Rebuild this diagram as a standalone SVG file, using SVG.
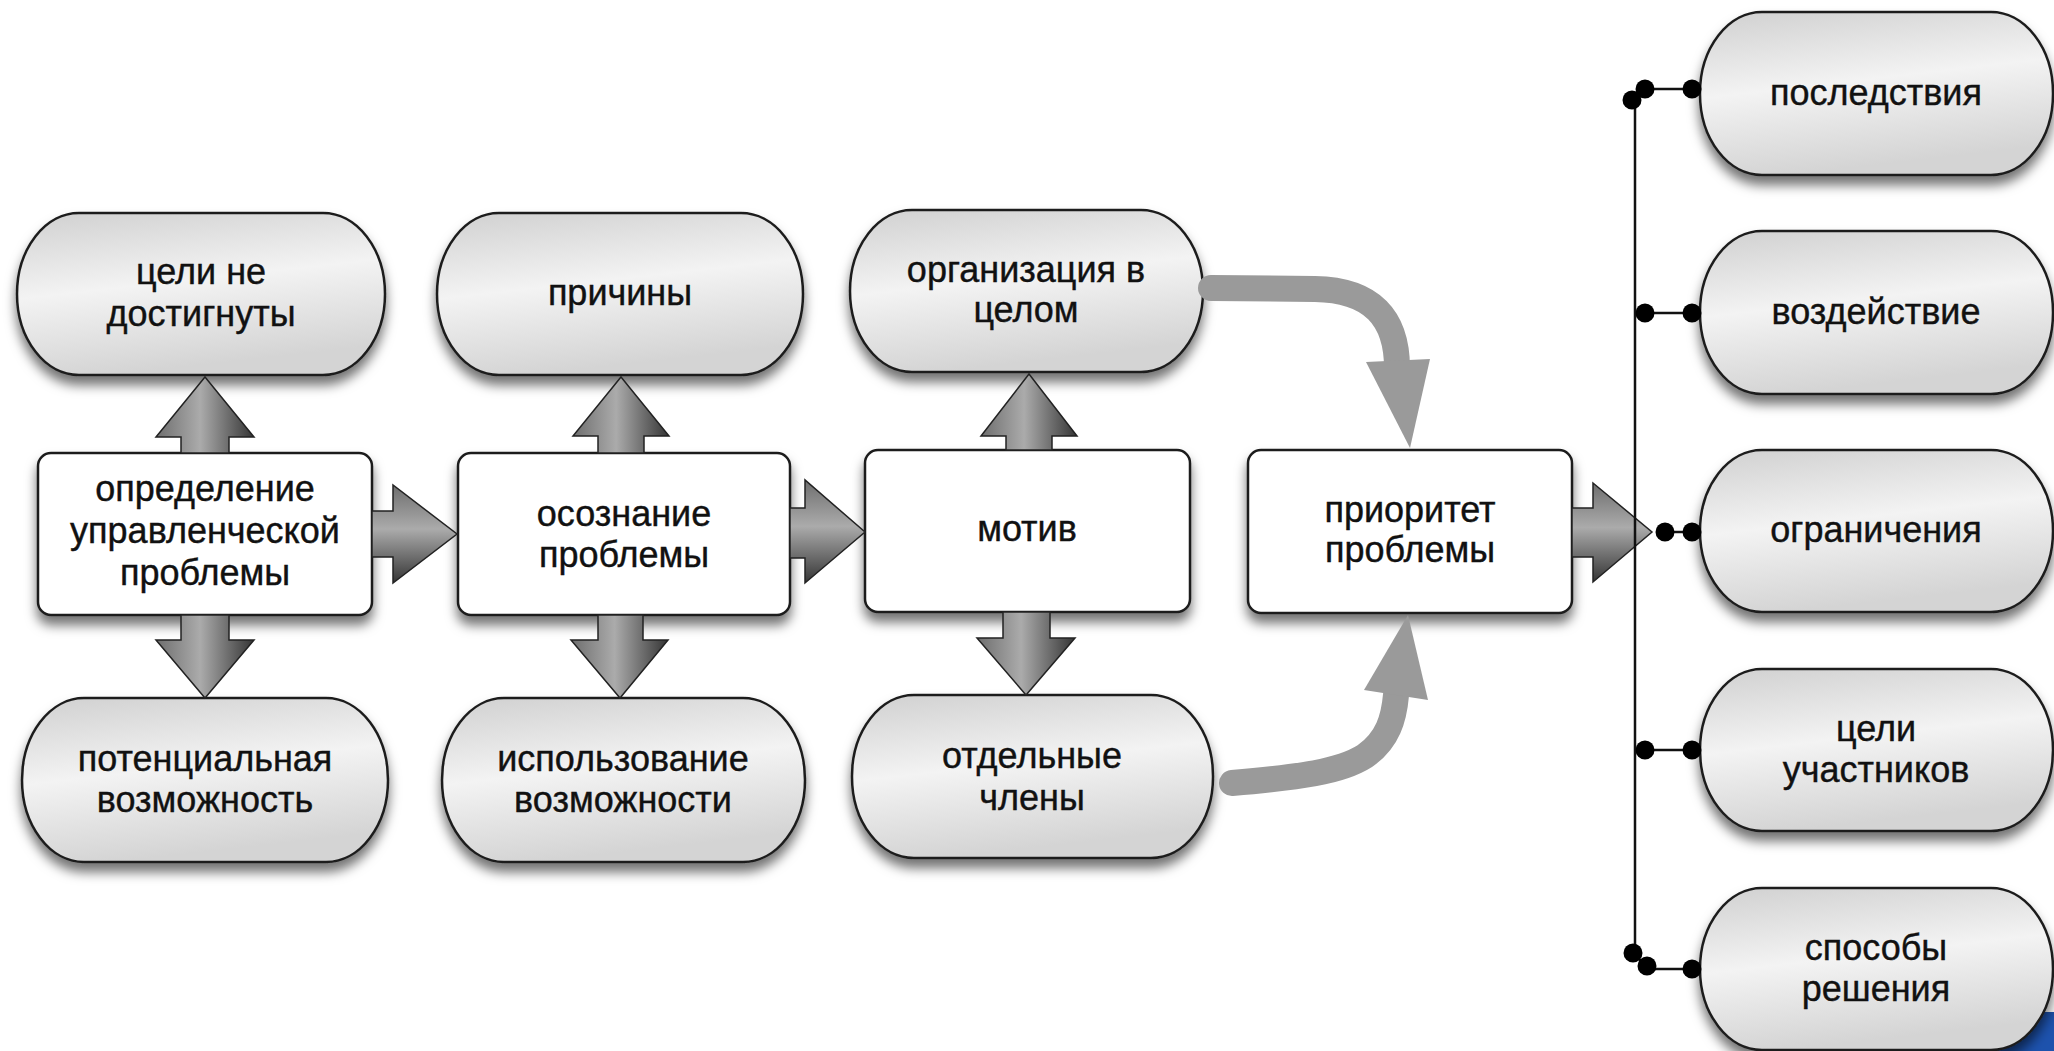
<svg xmlns="http://www.w3.org/2000/svg" width="2054" height="1051" viewBox="0 0 2054 1051">
<defs>
<linearGradient id="capG" x1="0" y1="0" x2="0.25" y2="1">
<stop offset="0" stop-color="#d0d0d0"/>
<stop offset="0.5" stop-color="#f3f3f3"/>
<stop offset="1" stop-color="#d4d4d4"/>
</linearGradient>
<linearGradient id="arrV" x1="0" y1="0" x2="1" y2="0">
<stop offset="0" stop-color="#6e6e6e"/>
<stop offset="0.45" stop-color="#ababab"/>
<stop offset="1" stop-color="#353535"/>
</linearGradient>
<linearGradient id="arrH" x1="0" y1="0" x2="0" y2="1">
<stop offset="0" stop-color="#6e6e6e"/>
<stop offset="0.45" stop-color="#ababab"/>
<stop offset="1" stop-color="#353535"/>
</linearGradient>
<filter id="sh" x="-10%" y="-10%" width="120%" height="140%">
<feDropShadow dx="0" dy="9" stdDeviation="6" flood-color="#000" flood-opacity="0.55"/>
</filter>
</defs>
<style>
.cap{fill:url(#capG);stroke:#1e1e1e;stroke-width:2.5;filter:url(#sh)}
.box{fill:#fff;stroke:#1e1e1e;stroke-width:2.5;filter:url(#sh)}
.t{font-family:"Liberation Sans",Arial,sans-serif;font-size:36px;fill:#111;text-anchor:middle;stroke:#111;stroke-width:0.4}
.av{fill:url(#arrV);stroke:#222;stroke-width:1.5;stroke-linejoin:miter}
.ah{fill:url(#arrH);stroke:#222;stroke-width:1.5;stroke-linejoin:miter}
.curve{fill:none;stroke:#9a9a9a;stroke-width:26;stroke-linecap:round}
.head{fill:#9a9a9a}
.bus{fill:none;stroke:#111;stroke-width:2.5}
.dot{fill:#000}
</style>
<rect width="2054" height="1051" fill="#fff"/>
<path d="M1995,1051 L1995,1012 L2054,1012 L2054,1051 Z" fill="#1d52ad"/>
<g id="nodes">
<g id="n-celi-ne-dostignuty"><rect class="cap" x="17" y="213" width="368" height="162" rx="62" ry="81"/><text class="t" x="201" y="284">цели не</text><text class="t" x="201" y="326">достигнуты</text></g>
<g id="n-opredelenie"><rect class="box" x="38" y="453" width="334" height="162" rx="13"/><text class="t" x="205" y="501">определение</text><text class="t" x="205" y="543">управленческой</text><text class="t" x="205" y="585">проблемы</text></g>
<g id="n-potencialnaya"><rect class="cap" x="22" y="698" width="366" height="164" rx="62" ry="82"/><text class="t" x="205" y="771">потенциальная</text><text class="t" x="205" y="812">возможность</text></g>
<g id="n-prichiny"><rect class="cap" x="437" y="213" width="366" height="162" rx="62" ry="81"/><text class="t" x="620" y="305">причины</text></g>
<g id="n-osoznanie"><rect class="box" x="458" y="453" width="332" height="162" rx="13"/><text class="t" x="624" y="526">осознание</text><text class="t" x="624" y="567">проблемы</text></g>
<g id="n-ispolzovanie"><rect class="cap" x="442" y="698" width="363" height="164" rx="62" ry="82"/><text class="t" x="623" y="771">использование</text><text class="t" x="623" y="812">возможности</text></g>
<g id="n-organizaciya"><rect class="cap" x="850" y="210" width="353" height="162" rx="62" ry="81"/><text class="t" x="1026" y="282">организация в</text><text class="t" x="1026" y="322">целом</text></g>
<g id="n-motiv"><rect class="box" x="865" y="450" width="325" height="162" rx="13"/><text class="t" x="1027" y="541">мотив</text></g>
<g id="n-otdelnye"><rect class="cap" x="852" y="695" width="361" height="163" rx="62" ry="81"/><text class="t" x="1032" y="768">отдельные</text><text class="t" x="1032" y="810">члены</text></g>
<g id="n-prioritet"><rect class="box" x="1248" y="450" width="324" height="163" rx="13"/><text class="t" x="1410" y="522">приоритет</text><text class="t" x="1410" y="562">проблемы</text></g>
<g id="n-posledstviya"><rect class="cap" x="1700" y="12" width="353" height="163" rx="62" ry="81"/><text class="t" x="1876" y="105">последствия</text></g>
<g id="n-vozdeystvie"><rect class="cap" x="1700" y="231" width="353" height="163" rx="62" ry="81"/><text class="t" x="1876" y="324">воздействие</text></g>
<g id="n-ogranicheniya"><rect class="cap" x="1700" y="450" width="353" height="162" rx="62" ry="81"/><text class="t" x="1876" y="542">ограничения</text></g>
<g id="n-celi-uchastnikov"><rect class="cap" x="1700" y="669" width="353" height="162" rx="62" ry="81"/><text class="t" x="1876" y="741">цели</text><text class="t" x="1876" y="782">участников</text></g>
<g id="n-sposoby"><rect class="cap" x="1700" y="888" width="353" height="162" rx="62" ry="81"/><text class="t" x="1876" y="960">способы</text><text class="t" x="1876" y="1001">решения</text></g>
</g>
<g id="connectors">
<polygon class="av" points="205,377 254,437 229,437 229,453 181,453 181,437 156,437"/>
<polygon class="av" points="621,377 669,436 644,436 644,453 598,453 598,436 573,436"/>
<polygon class="av" points="1029,374 1077,436 1052,436 1052,450 1006,450 1006,436 981,436"/>
<polygon class="av" points="181,615 229,615 229,640 254,640 205,698 156,640 181,640"/>
<polygon class="av" points="598,615 643,615 643,640 668,640 620,698 571,640 598,640"/>
<polygon class="av" points="1003,612 1050,612 1050,638 1075,638 1026,695 977,638 1003,638"/>
<polygon class="ah" points="372,511 393,511 393,485 457,534 393,583 393,557 372,557"/>
<polygon class="ah" points="790,508 805,508 805,480 865,532 805,583 805,558 790,558"/>
<polygon class="ah" points="1572,508 1593,508 1593,483 1652,532 1593,582 1593,557 1572,557"/>
<path class="curve" d="M1211,288 L1315,289 C1372,290 1397,318 1397,368"/>
<polygon class="head" points="1366,362 1430,359 1410,448"/>
<path class="curve" d="M1232,783 C1300,777 1340,772 1365,756 C1388,740 1394,718 1396,695"/>
<polygon class="head" points="1364,690 1428,700 1408,615"/>
<path class="bus" d="M1635,100 L1635,955"/>
<path class="bus" d="M1633,100 L1645,89 L1692,89"/>
<circle class="dot" cx="1632" cy="100" r="9.5"/><circle class="dot" cx="1645" cy="89" r="9.5"/><circle class="dot" cx="1692" cy="89" r="9.5"/>
<path class="bus" d="M1635,313 L1692,313"/>
<circle class="dot" cx="1645" cy="313" r="9.5"/><circle class="dot" cx="1692" cy="313" r="9.5"/>
<path class="bus" d="M1665,532 L1692,532"/>
<circle class="dot" cx="1665" cy="532" r="9.5"/><circle class="dot" cx="1692" cy="532" r="9.5"/>
<path class="bus" d="M1635,750 L1692,750"/>
<circle class="dot" cx="1645" cy="750" r="9.5"/><circle class="dot" cx="1692" cy="750" r="9.5"/>
<path class="bus" d="M1633,953 L1647,967 L1655,969 L1692,969"/>
<circle class="dot" cx="1633" cy="953" r="9.5"/><circle class="dot" cx="1647" cy="966" r="9.5"/><circle class="dot" cx="1692" cy="969" r="9.5"/>
</g>
</svg>
